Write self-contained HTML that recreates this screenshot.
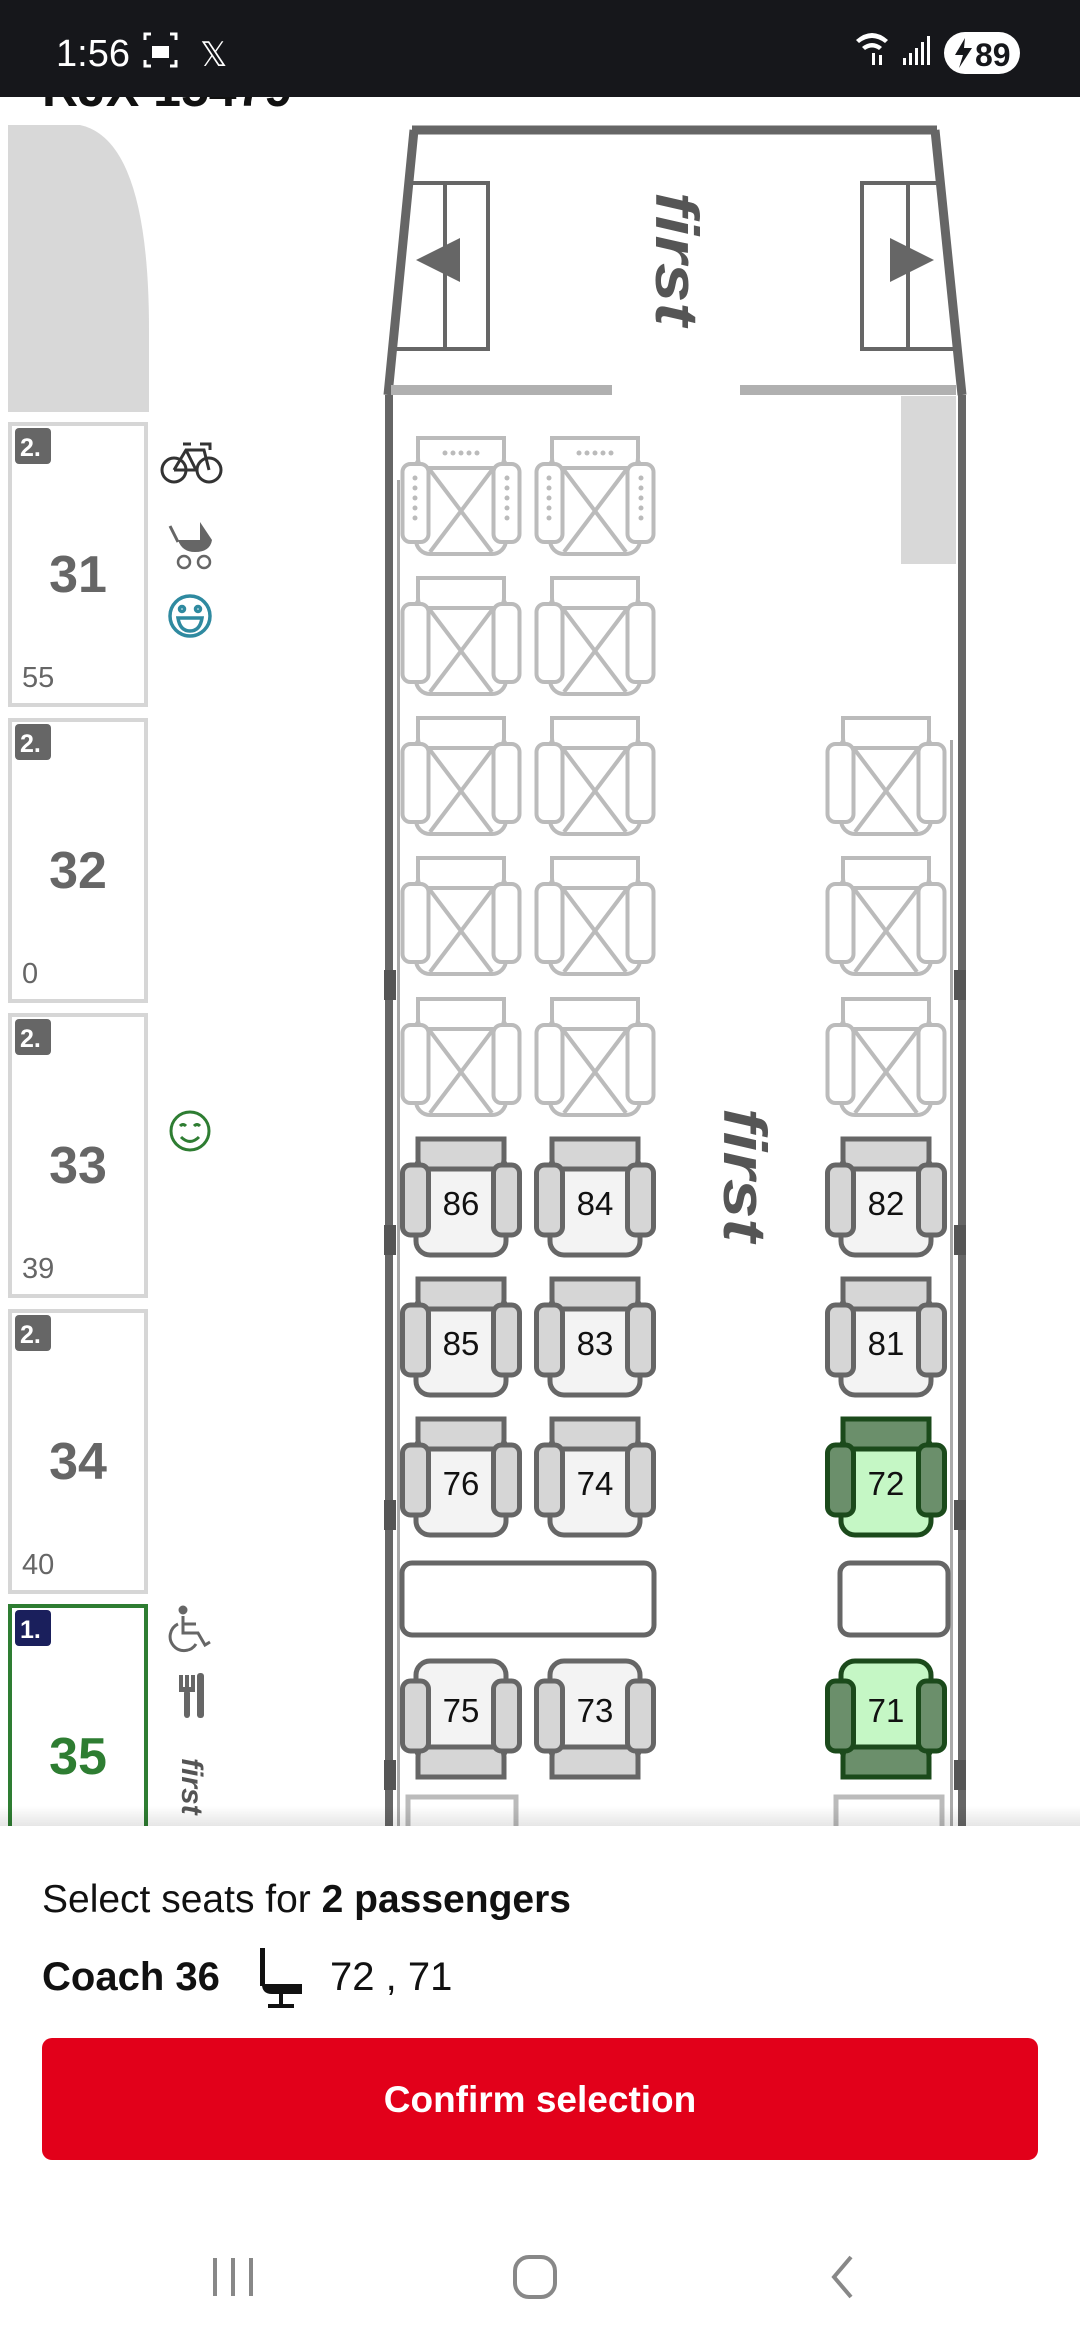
<!DOCTYPE html>
<html><head><meta charset="utf-8"><style>
html,body{margin:0;padding:0;background:#fff;}
body{width:1080px;height:2340px;overflow:hidden;position:relative;font-family:"Liberation Sans",sans-serif;}
svg{position:absolute;left:0;top:0;}
</style></head><body>
<svg width="1080" height="2340" viewBox="0 0 1080 2340" xmlns="http://www.w3.org/2000/svg" font-family="Liberation Sans, sans-serif">
<defs>
  <g id="sa">
    <rect x="16" y="18" width="90" height="100" rx="14" fill="#f3f3f3" stroke="#666" stroke-width="5"/>
    <path d="M18 2 H104 V22 Q104 32 94 32 H28 Q18 32 18 22 Z" fill="#d6d6d6" stroke="#666" stroke-width="5"/>
    <rect x="2.5" y="28" width="26" height="70" rx="8" fill="#d6d6d6" stroke="#666" stroke-width="5"/>
    <rect x="93.5" y="28" width="26" height="70" rx="8" fill="#d6d6d6" stroke="#666" stroke-width="5"/>
  </g>
  <g id="sg">
    <rect x="16" y="18" width="90" height="100" rx="14" fill="#c5f7c5" stroke="#1b4a1b" stroke-width="5"/>
    <path d="M18 2 H104 V22 Q104 32 94 32 H28 Q18 32 18 22 Z" fill="#6b8f6b" stroke="#1b4a1b" stroke-width="5"/>
    <rect x="2.5" y="28" width="26" height="70" rx="8" fill="#6b8f6b" stroke="#1b4a1b" stroke-width="5"/>
    <rect x="93.5" y="28" width="26" height="70" rx="8" fill="#6b8f6b" stroke="#1b4a1b" stroke-width="5"/>
  </g>
  <g id="sx">
    <rect x="16" y="18" width="90" height="100" rx="14" fill="#fff" stroke="#bbb" stroke-width="4"/>
    <path d="M18 2 H104 V22 Q104 32 94 32 H28 Q18 32 18 22 Z" fill="#fff" stroke="#bbb" stroke-width="4"/>
    <rect x="2.5" y="28" width="26" height="78" rx="8" fill="#fff" stroke="#bbb" stroke-width="4"/>
    <rect x="93.5" y="28" width="26" height="78" rx="8" fill="#fff" stroke="#bbb" stroke-width="4"/>
    <line x1="30" y1="34" x2="92" y2="116" stroke="#bbb" stroke-width="4"/>
    <line x1="92" y1="34" x2="30" y2="116" stroke="#bbb" stroke-width="4"/>
  </g>
  <g id="sxd">
    <use href="#sx"/>
    <g fill="#bbb"><circle cx="45" cy="17" r="2.5"/><circle cx="53" cy="17" r="2.5"/><circle cx="61" cy="17" r="2.5"/><circle cx="69" cy="17" r="2.5"/><circle cx="77" cy="17" r="2.5"/>
    <circle cx="15" cy="42" r="2.5"/><circle cx="15" cy="52" r="2.5"/><circle cx="15" cy="62" r="2.5"/><circle cx="15" cy="72" r="2.5"/><circle cx="15" cy="82" r="2.5"/>
    <circle cx="107" cy="42" r="2.5"/><circle cx="107" cy="52" r="2.5"/><circle cx="107" cy="62" r="2.5"/><circle cx="107" cy="72" r="2.5"/><circle cx="107" cy="82" r="2.5"/></g>
  </g>
</defs>

<!-- title under status bar -->
<text x="42" y="106" font-size="50" font-weight="bold" fill="#111">RJX 15479</text>

<!-- left head shape -->
<path d="M8 125 L80 125 Q149 140 149 330 L149 412 L8 412 Z" fill="#d8d8d8"/>

<!-- coach cards -->
<g font-weight="bold">
  <rect x="10" y="424" width="136" height="281" fill="#fff" stroke="#d6d6d6" stroke-width="4"/>
  <rect x="15" y="428" width="36" height="36" rx="4" fill="#666"/><text x="20" y="456" font-size="25" fill="#fff">2.</text>
  <text x="78" y="592" font-size="52" fill="#666" text-anchor="middle">31</text>
  <text x="22" y="687" font-size="29" fill="#666" font-weight="normal">55</text>

  <rect x="10" y="720" width="136" height="281" fill="#fff" stroke="#d6d6d6" stroke-width="4"/>
  <rect x="15" y="724" width="36" height="36" rx="4" fill="#666"/><text x="20" y="752" font-size="25" fill="#fff">2.</text>
  <text x="78" y="888" font-size="52" fill="#666" text-anchor="middle">32</text>
  <text x="22" y="983" font-size="29" fill="#666" font-weight="normal">0</text>

  <rect x="10" y="1015" width="136" height="281" fill="#fff" stroke="#d6d6d6" stroke-width="4"/>
  <rect x="15" y="1019" width="36" height="36" rx="4" fill="#666"/><text x="20" y="1047" font-size="25" fill="#fff">2.</text>
  <text x="78" y="1183" font-size="52" fill="#666" text-anchor="middle">33</text>
  <text x="22" y="1278" font-size="29" fill="#666" font-weight="normal">39</text>

  <rect x="10" y="1311" width="136" height="281" fill="#fff" stroke="#d6d6d6" stroke-width="4"/>
  <rect x="15" y="1315" width="36" height="36" rx="4" fill="#666"/><text x="20" y="1343" font-size="25" fill="#fff">2.</text>
  <text x="78" y="1479" font-size="52" fill="#666" text-anchor="middle">34</text>
  <text x="22" y="1574" font-size="29" fill="#666" font-weight="normal">40</text>

  <rect x="10" y="1606" width="136" height="281" fill="#fff" stroke="#2e7d32" stroke-width="4"/>
  <rect x="15" y="1610" width="36" height="36" rx="4" fill="#1a1f5c"/><text x="20" y="1638" font-size="25" fill="#fff">1.</text>
  <text x="78" y="1774" font-size="52" fill="#2e7d32" text-anchor="middle">35</text>
</g>

<!-- icons column -->
<g fill="none" stroke="#333" stroke-width="3">
  <circle cx="174" cy="470" r="12"/><circle cx="209" cy="470" r="12"/>
  <path d="M174 470 L186 450 L204 450 L209 470 M186 450 L196 470 L174 470 M183 444 h8 M200 444 h10 v6"/>
</g>
<g>
  <path d="M200 522 L212 540 H200 Z" fill="#666"/>
  <path d="M178 540 H212 Q210 552 195 552 Q182 552 178 540 Z" fill="#666"/>
  <path d="M170 526 L178 542" stroke="#666" stroke-width="3" fill="none"/>
  <circle cx="184" cy="562" r="6" fill="none" stroke="#666" stroke-width="2.5"/>
  <circle cx="204" cy="562" r="6" fill="none" stroke="#666" stroke-width="2.5"/>
</g>
<g fill="none" stroke="#2f8aa0" stroke-width="3.5">
  <circle cx="190" cy="616" r="20"/>
  <circle cx="182" cy="609" r="2.5"/><circle cx="198" cy="609" r="2.5"/>
  <path d="M178 618 H202 Q200 631 190 631 Q180 631 178 618 Z"/>
</g>
<g fill="none" stroke="#2e7d32" stroke-width="3">
  <circle cx="190" cy="1131" r="19"/>
  <path d="M180 1126 q3 -3 6 0 M194 1126 q3 -3 6 0 M181 1137 q9 9 18 0"/>
</g>
<g fill="none" stroke="#666" stroke-width="3">
  <circle cx="183" cy="1610" r="3" fill="#666"/>
  <path d="M183 1616 V1633 H198 L205 1645 L210 1642 M183 1624 H196"/>
  <path d="M178 1624 A14 14 0 1 0 196 1644"/>
</g>
<g fill="#666">
  <rect x="179" y="1675" width="4" height="14"/><rect x="185" y="1675" width="4" height="14"/><rect x="191" y="1675" width="4" height="14"/>
  <rect x="179" y="1687" width="16" height="5"/><rect x="184" y="1690" width="6" height="28" rx="3"/>
  <rect x="197" y="1673" width="7" height="45" rx="3"/>
</g>
<text transform="translate(182,1758) rotate(90)" font-size="30" font-weight="bold" font-style="italic" fill="#555">first</text>

<!-- train front -->
<path d="M412 130 L937 130 M414 130 L388 395 M935 130 L962 395" fill="none" stroke="#666" stroke-width="9"/>
<g fill="none" stroke="#666" stroke-width="4">
  <path d="M407 183 H488 V349 H392"/><line x1="445" y1="183" x2="445" y2="349"/>
  <path d="M942 183 H862 V349 H958"/><line x1="908" y1="183" x2="908" y2="349"/>
</g>
<path d="M416 260 L460 238 V282 Z" fill="#666"/>
<path d="M934 260 L890 238 V282 Z" fill="#666"/>
<text transform="translate(656,192) rotate(90)" font-size="60" font-weight="bold" font-style="italic" fill="#555" textLength="134" lengthAdjust="spacingAndGlyphs">first</text>
<rect x="391" y="385" width="221" height="10" fill="#b0b0b0"/>
<rect x="740" y="385" width="216" height="10" fill="#b0b0b0"/>
<rect x="901" y="396" width="55" height="168" fill="#d8d8d8"/>

<!-- walls -->
<rect x="385" y="395" width="8" height="1440" fill="#666"/>
<rect x="397" y="480" width="3" height="1350" fill="#aaa"/>
<rect x="958" y="395" width="8" height="1440" fill="#666"/>
<rect x="950" y="740" width="3" height="1090" fill="#aaa"/>
<g fill="#555">
  <rect x="384" y="970" width="12" height="30"/><rect x="384" y="1225" width="12" height="30"/><rect x="384" y="1500" width="12" height="30"/><rect x="384" y="1760" width="12" height="30"/>
  <rect x="954" y="970" width="12" height="30"/><rect x="954" y="1225" width="12" height="30"/><rect x="954" y="1500" width="12" height="30"/><rect x="954" y="1760" width="12" height="30"/>
</g>

<!-- unavailable seats -->
<use href="#sxd" x="400" y="436"/><use href="#sxd" x="534" y="436"/>
<use href="#sx" x="400" y="576"/><use href="#sx" x="534" y="576"/>
<use href="#sx" x="400" y="716"/><use href="#sx" x="534" y="716"/><use href="#sx" x="825" y="716"/>
<use href="#sx" x="400" y="856"/><use href="#sx" x="534" y="856"/><use href="#sx" x="825" y="856"/>
<use href="#sx" x="400" y="997"/><use href="#sx" x="534" y="997"/><use href="#sx" x="825" y="997"/>

<text transform="translate(724,1108) rotate(90)" font-size="60" font-weight="bold" font-style="italic" fill="#555" textLength="134" lengthAdjust="spacingAndGlyphs">first</text>

<!-- available seats -->
<use href="#sa" x="400" y="1137"/><use href="#sa" x="534" y="1137"/><use href="#sa" x="825" y="1137"/>
<use href="#sa" x="400" y="1277"/><use href="#sa" x="534" y="1277"/><use href="#sa" x="825" y="1277"/>
<use href="#sa" x="400" y="1417"/><use href="#sa" x="534" y="1417"/><use href="#sg" x="825" y="1417"/>
<g transform="translate(0,3438) scale(1,-1)">
  <use href="#sa" x="400" y="1659"/><use href="#sa" x="534" y="1659"/><use href="#sg" x="825" y="1659"/>
</g>
<g font-size="33" fill="#111" text-anchor="middle">
  <text x="461" y="1215">86</text><text x="595" y="1215">84</text><text x="886" y="1215">82</text>
  <text x="461" y="1355">85</text><text x="595" y="1355">83</text><text x="886" y="1355">81</text>
  <text x="461" y="1495">76</text><text x="595" y="1495">74</text><text x="886" y="1495">72</text>
  <text x="461" y="1722">75</text><text x="595" y="1722">73</text><text x="886" y="1722">71</text>
</g>
<!-- tables -->
<rect x="402" y="1563" width="252" height="72" rx="10" fill="#fff" stroke="#666" stroke-width="5"/>
<rect x="840" y="1563" width="108" height="72" rx="10" fill="#fff" stroke="#666" stroke-width="5"/>
<rect x="408" y="1797" width="108" height="60" fill="#fff" stroke="#bbb" stroke-width="5"/>
<rect x="836" y="1797" width="106" height="60" fill="#fff" stroke="#bbb" stroke-width="5"/>

<!-- bottom panel -->
<defs><linearGradient id="sh" x1="0" y1="0" x2="0" y2="1"><stop offset="0" stop-color="#000" stop-opacity="0"/><stop offset="1" stop-color="#000" stop-opacity="0.10"/></linearGradient></defs>
<rect x="0" y="1806" width="1080" height="20" fill="url(#sh)"/>
<rect x="0" y="1826" width="1080" height="514" fill="#fff"/>
<text x="42" y="1912" font-size="39" fill="#111">Select seats for <tspan font-weight="bold">2 passengers</tspan></text>
<text x="42" y="1990" font-size="40" font-weight="bold" fill="#111">Coach 36</text>
<g fill="#111">
  <rect x="260" y="1948" width="5" height="38"/>
  <path d="M262 1984 Q262 1994 272 1994 H302 V1984 H272 Z"/>
  <rect x="279" y="1994" width="4" height="12"/><rect x="268" y="2004" width="26" height="4"/>
</g>
<text x="330" y="1990" font-size="40" fill="#111">72 , 71</text>
<rect x="42" y="2038" width="996" height="122" rx="10" fill="#e2001a"/>
<text x="540" y="2112" font-size="37" font-weight="bold" fill="#fff" text-anchor="middle">Confirm selection</text>
<g stroke="#888" stroke-width="4" fill="none">
  <line x1="215" y1="2258" x2="215" y2="2296"/><line x1="233" y1="2258" x2="233" y2="2296"/><line x1="251" y1="2258" x2="251" y2="2296"/>
  <rect x="515" y="2257" width="40" height="40" rx="14"/>
  <path d="M851 2257 L834 2277 L851 2297"/>
</g>

<!-- status bar -->
<rect x="0" y="0" width="1080" height="97" fill="#16171b"/>
<text x="56" y="66" font-size="38" fill="#fff">1:56</text>
<g stroke="#fff" stroke-width="3" fill="none">
  <path d="M145 40 v-6 h6 M170 34 h6 v6 M176 60 v6 h-6 M151 66 h-6 v-6"/>
</g>
<rect x="152" y="46" width="17" height="12" fill="#fff"/>
<text x="200" y="66" font-size="34" fill="#fff">𝕏</text>
<g fill="#fff">
  <path d="M856 40 q16 -14 32 0 l-3 3 q-13 -10 -26 0 Z M862 47 q10 -8 20 0 l-3 3 q-7 -5 -14 0 Z"/>
  <rect x="872" y="53" width="3" height="12"/><rect x="879" y="55" width="3" height="10"/>
  <rect x="903" y="58" width="3" height="7"/><rect x="909" y="53" width="3" height="12"/><rect x="915" y="48" width="3" height="17"/><rect x="921" y="42" width="3" height="23"/><rect x="927" y="36" width="3" height="29"/>
  <rect x="944" y="32" width="76" height="42" rx="21"/>
</g>
<path d="M965 38 L955 55 H963 L959 68 L972 48 H964 Z" fill="#16171b"/>
<text x="975" y="66" font-size="32" font-weight="bold" fill="#16171b">89</text>
</svg>
</body></html>
